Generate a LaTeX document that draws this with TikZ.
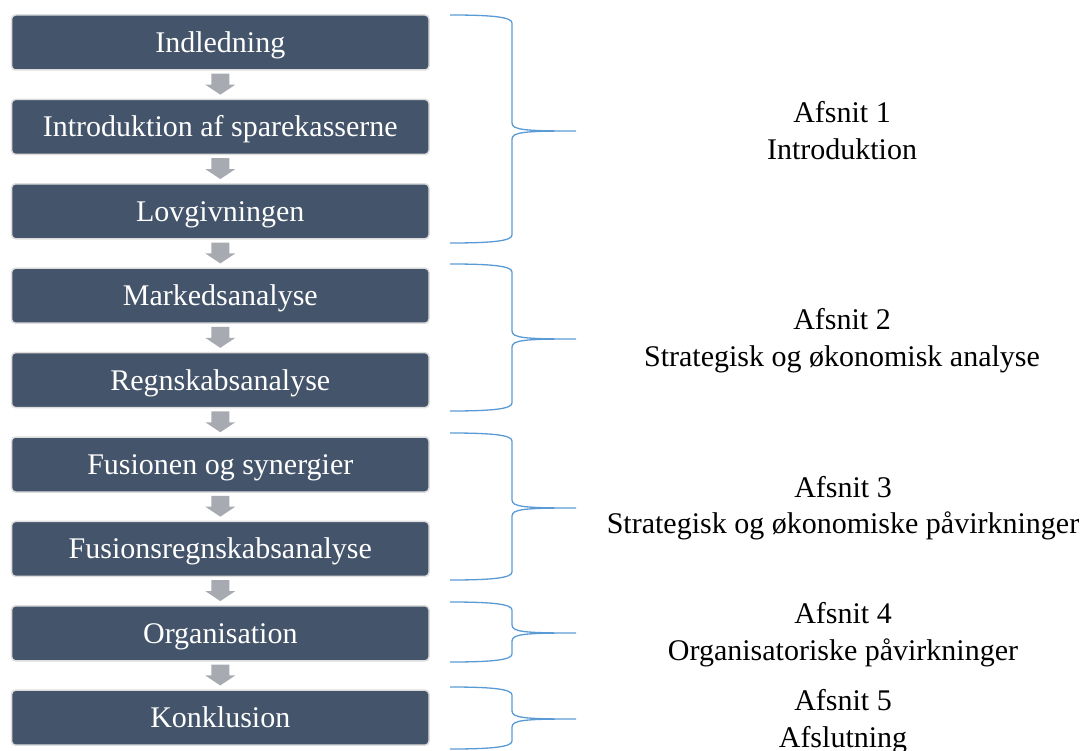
\documentclass[tikz,border=0pt]{standalone}
\usepackage{fontspec}
\setmainfont{Liberation Serif}
\usetikzlibrary{calc}

\definecolor{boxfill}{HTML}{44546A}
\definecolor{boxrim}{HTML}{DDDDDD}
\definecolor{arrowgray}{RGB}{167,170,177}
\definecolor{braceblue}{HTML}{5B9BD5}

\tikzset{
  stepbox/.style={rounded corners=4pt, fill=boxfill, draw=boxrim, line width=1.5pt,
    minimum width=417.5pt, minimum height=55pt, inner sep=0pt,
    text=white, text height=20pt, text depth=0pt,
    font=\fontsize{30}{36}\selectfont},
  sidetext/.style={anchor=base, inner sep=0pt, text=black,
    font=\fontsize{30}{36}\selectfont},
  flowarrow/.style={fill=arrowgray},
  bracket/.style={draw=braceblue, line width=1.3pt}
}

% grey block arrow from the bottom of one box to the top of the next
\newcommand\flowstep[2]{%
  \fill[flowarrow] ($(#1.south)+(-9,3)$) -- ($(#1.south)+(9,3)$)
    -- ($(#2.north)+(9,-14)$) -- ($(#2.north)+(15,-14)$)
    -- ($(#2.north)+(0,-4)$)
    -- ($(#2.north)+(-15,-14)$) -- ($(#2.north)+(-9,-14)$) -- cycle;}

% curly bracket: top end, tip, bottom end (y values)
\newcommand\sectionbrace[4]{%
  \coordinate (#1) at (576,#3);
  \draw[bracket] (450,#2) .. controls (492,#2) and (512,#2+2) .. (512,#2+8)
    -- (512,#3-8) .. controls (512,#3-1) and (525,#3) .. (#1)
    .. controls (525,#3) and (512,#3+1) .. (512,#3+8)
    -- (512,#4-8) .. controls (512,#4-2) and (492,#4) .. (450,#4);}

\begin{document}
\begin{tikzpicture}[x=1pt,y=-1pt]
  \useasboundingbox (0,0) rectangle (1083,751);

  % flow of chapters
  \node[stepbox] (b1) at (220.3, 42.5) {Indledning};
  \node[stepbox] (b2) at (220.3,126.9) {Introduktion af sparekasserne};
  \node[stepbox] (b3) at (220.3,211.3) {Lovgivningen};
  \node[stepbox] (b4) at (220.3,295.7) {Markedsanalyse};
  \node[stepbox] (b5) at (220.3,380.1) {Regnskabsanalyse};
  \node[stepbox] (b6) at (220.3,464.5) {Fusionen og synergier};
  \node[stepbox] (b7) at (220.3,548.9) {Fusionsregnskabsanalyse};
  \node[stepbox] (b8) at (220.3,633.3) {Organisation};
  \node[stepbox] (b9) at (220.3,717.7) {Konklusion};

  \flowstep{b1}{b2}
  \flowstep{b2}{b3}
  \flowstep{b3}{b4}
  \flowstep{b4}{b5}
  \flowstep{b5}{b6}
  \flowstep{b6}{b7}
  \flowstep{b7}{b8}
  \flowstep{b8}{b9}

  % brackets grouping the chapters into sections
  \sectionbrace{t1}{15}{131}{243}
  \sectionbrace{t2}{264}{339}{411}
  \sectionbrace{t3}{433}{508}{580}
  \sectionbrace{t4}{602}{633}{662}
  \sectionbrace{t5}{687}{719}{749}

  % section titles
  \node[sidetext] (s1a) at (842,123) {Afsnit 1};
  \node[sidetext] (s1b) at (842,160) {Introduktion};
  \node[sidetext] (s2a) at (842,329) {Afsnit 2};
  \node[sidetext] (s2b) at (842,366) {Strategisk og økonomisk analyse};
  \node[sidetext] (s3a) at (843,497) {Afsnit 3};
  \node[sidetext] (s3b) at (843,533) {Strategisk og økonomiske påvirkninger};
  \node[sidetext] (s4a) at (843,623) {Afsnit 4};
  \node[sidetext] (s4b) at (843,660) {Organisatoriske påvirkninger};
  \node[sidetext] (s5a) at (843,710) {Afsnit 5};
  \node[sidetext] (s5b) at (843,747) {Afslutning};
\end{tikzpicture}
\end{document}
